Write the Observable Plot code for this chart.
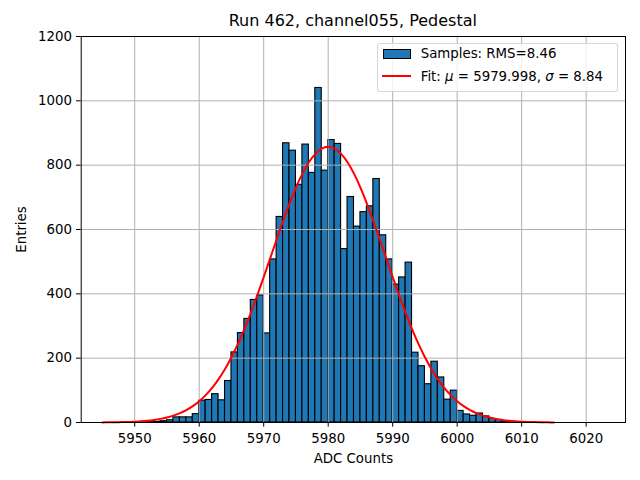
<!DOCTYPE html>
<html>
<head>
<meta charset="utf-8">
<script src="https://cdn.jsdelivr.net/npm/d3@7"></script>
<script src="https://cdn.jsdelivr.net/npm/@observablehq/plot@0.6"></script>
<style>
  html, body { margin: 0; padding: 0; background: #fff; }
  body { width: 640px; height: 480px; overflow: hidden; font-family: "DejaVu Sans", sans-serif; }
  #wrap { position: relative; width: 640px; height: 480px; }
  #title { position: relative; height: 24px; }
  #title span { position: absolute; left: 80.7px; width: 544.3px; top: 12px; text-align: center; font-size: 16px; line-height: 18px; white-space: nowrap; }
  #legend { position: absolute; left: 377.3px; top: 42.5px; width: 241px; height: 49.5px; box-sizing: border-box;
            border: 1px solid rgba(204,204,204,0.8); border-radius: 3px; background: rgba(255,255,255,0.8); }
  #legend .sw { position: absolute; left: 4.4px; top: 5.8px; width: 28px; height: 9.7px; box-sizing: border-box; background: #1f77b4; border: 1px solid #000; }
  #legend .ln { position: absolute; left: 4px; width: 28.5px; top: 31.8px; height: 2px; background: #ff0000; }
  #legend .t { position: absolute; left: 42.4px; font-size: 13.33px; line-height: 16px; white-space: nowrap; }
</style>
</head>
<body>
<div id="wrap">
  <div id="title"><span>Run 462, channel055, Pedestal</span></div>
  <div id="chart"></div>
  <div id="legend">
    <div class="sw"></div>
    <div class="t" style="top:2.9px">Samples: RMS=8.46</div>
    <div class="ln"></div>
    <div class="t" style="top:25.4px">Fit: <i>μ</i> = 5979.998, <i>σ</i> = 8.84</div>
  </div>
</div>
<script>
// Histogram bins (left edges, width 1 ADC count)
const binEdges = [5951,5952,5953,5954,5955,5956,5957,5958,5959,5960,
  5961,5962,5963,5964,5965,5966,5967,5968,5969,5970,
  5971,5972,5973,5974,5975,5976,5977,5978,5979,5980,
  5981,5982,5983,5984,5985,5986,5987,5988,5989,5990,
  5991,5992,5993,5994,5995,5996,5997,5998,5999,6000,
  6001,6002,6003,6004,6005,6006,6007,6008,6009];
const binCounts = [1,1,2,4,7,16,16,16,26,68,
  70,88,69,129,218,278,322,381,395,277,
  507,639,868,845,739,864,776,1040,783,878,
  866,539,701,609,654,672,757,582,507,429,
  451,497,217,175,119,189,140,71,99,36,
  25,21,28,19,11,8,4,2,1];

// Gaussian fit curve at each ADC count
const fitX = [5945,5946,5947,5948,5949,5950,5951,5952,5953,5954,5955,5956,5957,5958,5959,5960,
  5961,5962,5963,5964,5965,5966,5967,5968,5969,5970,5971,5972,5973,5974,5975,5976,5977,5978,5979,5980,
  5981,5982,5983,5984,5985,5986,5987,5988,5989,5990,5991,5992,5993,5994,5995,5996,5997,5998,5999,6000,
  6001,6002,6003,6004,6005,6006,6007,6008,6009,6010,6011,6012,6013,6014,6015];
const fitY = [0.3,0.5,0.8,1.2,1.8,2.7,3.9,5.7,8.1,11.3,15.7,21.5,29.0,38.7,51.0,66.3,
  85.1,107.8,134.9,166.6,203.1,244.5,290.6,341.1,395.1,451.9,510.4,569.0,626.4,680.7,730.3,773.6,809.0,835.3,851.5,857.0,
  851.5,835.3,809.0,773.6,730.3,680.7,626.4,569.0,510.4,451.9,395.1,341.1,290.6,244.5,203.1,166.6,134.9,107.8,85.1,66.3,
  51.0,38.7,29.0,21.5,15.7,11.3,8.1,5.7,3.9,2.7,1.8,1.2,0.8,0.5,0.3];

const xTicks = [5950,5960,5970,5980,5990,6000,6010,6020];
const yTicks = [0,200,400,600,800,1000,1200];
const xDomain = [5941.7, 6026.1];
const yDomain = [0, 1200];

const bars = binEdges.map((e, i) => ({lo: e, hi: e + 1, n: binCounts[i]}));
const fit = fitX.map((x, i) => ({x, y: fitY[i]}));

const fs = 13.33;
const chart = Plot.plot({
  width: 640,
  height: 456,
  marginLeft: 80.7,
  marginRight: 15,
  marginTop: 12,
  marginBottom: 58,
  style: {fontFamily: "DejaVu Sans", fontSize: "13.33px", background: "transparent", overflow: "visible"},
  x: {domain: xDomain},
  y: {domain: yDomain},
  marks: [
    Plot.rectY(bars, {x1: "lo", x2: "hi", y: "n", fill: "#1f77b4", stroke: "#000", strokeWidth: 1.1}),
    Plot.gridX(xTicks, {stroke: "#b0b0b0", strokeOpacity: 1, strokeWidth: 1}),
    Plot.gridY(yTicks, {stroke: "#b0b0b0", strokeOpacity: 1, strokeWidth: 1}),
    Plot.line(fit, {x: "x", y: "y", stroke: "#ff0000", strokeWidth: 2, curve: "natural"}),
    Plot.frame({stroke: "#000", strokeWidth: 1}),
    Plot.axisX(xTicks, {tickSize: 4.7, tickPadding: 6, fontSize: fs, tickFormat: d => String(d),
      label: "ADC Counts", labelAnchor: "center", labelArrow: "none", labelOffset: 40}),
    Plot.axisY(yTicks, {tickSize: 4.7, tickPadding: 4.6, fontSize: fs, tickFormat: d => String(d),
      label: "Entries", labelAnchor: "center", labelArrow: "none", labelOffset: 65})
  ]
});
document.getElementById("chart").appendChild(chart);
</script>
</body>
</html>
